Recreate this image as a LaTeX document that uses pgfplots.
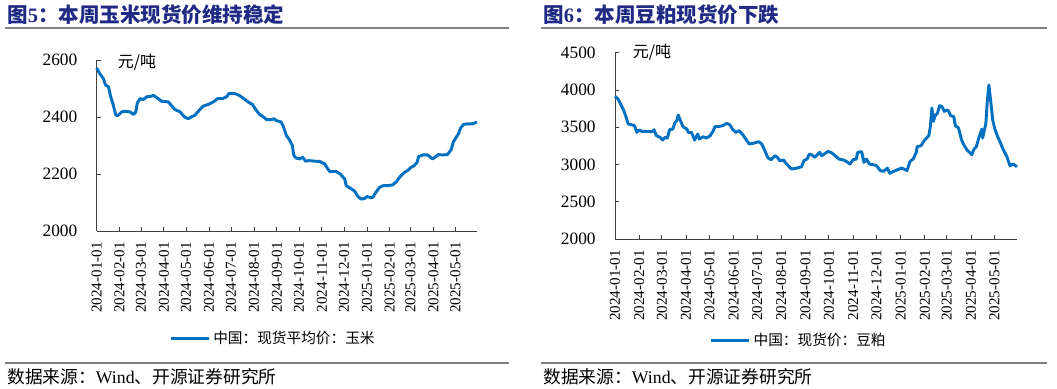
\documentclass[border=0pt]{standalone}
\usepackage{pgfplots}
\pgfplotsset{compat=1.18}
\usepackage{fontspec}
\setmainfont{Liberation Serif}
\newfontfamily\cjk{Noto Sans CJK SC}
\definecolor{lineblue}{RGB}{0,112,192}
\definecolor{titleblue}{RGB}{32,42,132}
\definecolor{rulegray}{RGB}{128,128,128}
\definecolor{axgray}{RGB}{64,64,64}
\pgfplotsset{mystyle/.style={
  scale only axis, anchor=south west, xmin=0, xmax=515, clip=false,
  axis lines*=left, axis line style={axgray, line width=0.6pt},
  tick align=inside, major tick length=3pt, tick style={axgray, line width=0.6pt},
  xtick={0,31,60,91,121,152,182,213,244,274,305,335,366,397,425,456,486},
  xticklabels={2024-01-01,2024-02-01,2024-03-01,2024-04-01,2024-05-01,2024-06-01,2024-07-01,2024-08-01,2024-09-01,2024-10-01,2024-11-01,2024-12-01,2025-01-01,2025-02-01,2025-03-01,2025-04-01,2025-05-01},
  xticklabel style={rotate=90, anchor=east, font=\fontsize{11.3}{11.3}\selectfont},
  xticklabel shift=5pt,
  yticklabel style={font=\fontsize{13}{13}\selectfont},
  yticklabel shift=11pt,
  legend style={draw=none, fill=none, font=\cjk\fontsize{11}{13}\selectfont},
  legend image code/.code={\draw[#1] (0pt,0pt) -- (28.5pt,0pt);},
}}
\begin{document}
\begin{tikzpicture}
\path[use as bounding box] (0,0) rectangle (792.75pt,291.75pt);
% titles
\node[anchor=west, text=titleblue, inner sep=0pt] at (5.25pt,280.5pt) {\fontsize{15.4}{16}\selectfont{\cjk\bfseries 图}\textbf{5}{\cjk\bfseries ：本周玉米现货价维持稳定}};
\node[anchor=west, text=titleblue, inner sep=0pt] at (407.25pt,280.5pt) {\fontsize{15.4}{16}\selectfont{\cjk\bfseries 图}\textbf{6}{\cjk\bfseries ：本周豆粕现货价下跌}};
\draw[rulegray, line width=1.5pt] (3.75pt,270.4pt) -- (381.75pt,270.4pt);
\draw[rulegray, line width=1.5pt] (405.75pt,270.4pt) -- (785.25pt,270.4pt);
\draw[rulegray, line width=1.5pt] (3.75pt,19.7pt) -- (381.75pt,19.7pt);
\draw[rulegray, line width=1.5pt] (405.75pt,19.7pt) -- (785.25pt,19.7pt);
\node[anchor=west, inner sep=0pt] at (5.25pt,9.2pt) {\fontsize{13.3}{14}\selectfont{\cjk 数据来源：}Wind{\cjk 、开源证券研究所}};
\node[anchor=west, inner sep=0pt] at (407.25pt,9.2pt) {\fontsize{13.3}{14}\selectfont{\cjk 数据来源：}Wind{\cjk 、开源证券研究所}};

\begin{axis}[mystyle, at={(72.5pt,118.5pt)}, width=285.2pt, height=128.25pt,
  ymin=2000, ymax=2600, ytick={2000,2200,2400,2600}, yticklabels={2000,2200,2400,2600},
  legend style={at={(0.465,-0.626)}, anchor=center}]
\addplot[lineblue, line width=2.2pt, line join=round] table {
0 2572
4 2553
9 2535
12 2512
16 2506
19 2471
22 2447
26 2406
29 2406
34 2418
38 2420
45 2418
50 2409
53 2418
55 2449
59 2465
63 2461
68 2471
74 2473
77 2476
83 2465
88 2455
97 2453
101 2441
106 2426
113 2418
119 2400
124 2394
128 2400
133 2406
137 2418
144 2438
151 2444
158 2453
164 2465
171 2465
176 2471
179 2482
187 2482
193 2476
198 2467
205 2453
211 2444
216 2424
221 2408
225 2402
230 2391
237 2391
240 2394
243 2388
250 2382
253 2365
257 2335
261 2320
265 2300
267 2265
270 2256
275 2253
279 2259
283 2245
288 2247
295 2245
302 2244
309 2235
313 2218
316 2208
324 2209
330 2200
336 2182
338 2159
343 2151
349 2141
354 2121
358 2112
363 2114
366 2121
370 2118
374 2118
378 2135
383 2153
388 2159
394 2159
401 2162
406 2173
411 2191
417 2206
421 2212
426 2224
430 2229
434 2241
436 2261
442 2267
448 2267
455 2253
459 2261
463 2268
469 2267
475 2268
480 2285
483 2312
487 2329
490 2341
493 2362
497 2374
503 2376
509 2376
515 2382
};
\addlegendentry{中国：现货平均价：玉米}
\node[font=\cjk\fontsize{12}{13}\selectfont] at (rel axis cs:0.106,0.988) {元/吨};
\end{axis}

\begin{axis}[mystyle, at={(461.25pt,112.5pt)}, width=301.5pt, height=139.7pt,
  ymin=2000, ymax=4500, ytick={2000,2500,3000,3500,4000,4500}, yticklabels={2000,2500,3000,3500,4000,4500},
  legend style={at={(0.458,-0.546)}, anchor=center}]
\addplot[lineblue, line width=2.2pt, line join=round] table {
0 3915
4 3879
7 3812
11 3731
14 3642
17 3543
21 3534
25 3521
28 3431
31 3463
34 3445
41 3445
48 3440
50 3467
53 3387
58 3364
61 3328
64 3364
67 3355
70 3467
74 3476
77 3566
79 3588
81 3664
83 3610
87 3508
92 3476
94 3431
98 3431
102 3328
106 3409
108 3342
113 3373
117 3355
122 3387
126 3454
128 3508
132 3508
138 3521
143 3552
147 3534
151 3467
155 3431
159 3454
164 3396
169 3319
172 3275
177 3284
184 3306
188 3275
192 3185
196 3087
200 3064
205 3118
208 3096
211 3051
216 3060
218 3028
222 2984
226 2939
233 2952
239 2970
242 3051
246 3073
249 3140
252 3131
256 3096
262 3163
265 3118
269 3149
273 3176
278 3154
282 3118
287 3073
293 3060
297 3037
301 3006
305 3064
309 3073
311 3163
316 3172
319 3028
322 3073
326 3006
331 2997
335 2984
340 2917
344 2908
349 2952
352 2881
357 2908
361 2926
367 2952
372 2930
374 2917
378 3042
382 3073
386 3163
387 3239
392 3252
396 3319
402 3387
404 3508
406 3758
408 3579
410 3655
413 3687
416 3790
419 3776
422 3713
425 3731
427 3722
430 3655
434 3642
436 3521
440 3490
444 3328
447 3261
451 3194
455 3154
457 3131
460 3208
463 3239
466 3355
470 3476
471 3355
473 3454
475 3543
477 3857
479 4067
481 3879
484 3588
487 3463
491 3355
493 3310
497 3208
502 3105
506 2984
510 3006
515 2970
};
\addlegendentry{中国：现货价：豆粕}
\node[font=\cjk\fontsize{12}{13}\selectfont] at (rel axis cs:0.092,1.004) {元/吨};
\end{axis}
\end{tikzpicture}
\end{document}
